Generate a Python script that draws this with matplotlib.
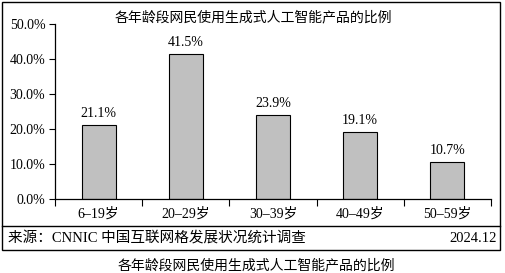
import matplotlib as mpl
mpl.use('Agg')
import matplotlib.pyplot as plt
from matplotlib.patches import Rectangle
from matplotlib.lines import Line2D

categories = ['6–19岁', '20–29岁', '30–39岁', '40–49岁', '50–59岁']
values = [21.1, 41.5, 23.9, 19.1, 10.7]
yticks = [0, 10, 20, 30, 40, 50]

TITLE = '各年龄段网民使用生成式人工智能产品的比例'
SOURCE = '来源：CNNIC 中国互联网格发展状况统计调查'
DATE = '2024.12'

MIXED = ['Liberation Serif', 'Noto Sans CJK SC']
CJK = ['Noto Sans CJK SC', 'DejaVu Sans']

fig = plt.figure(figsize=(5.05, 2.73), dpi=100)
W, H = 505.0, 273.0

# outer frame and source separator
fig.patches.append(Rectangle((2 / W, 1 - 250 / H), 498 / W, 248 / H,
                             transform=fig.transFigure, fill=False,
                             edgecolor='black', linewidth=1.0))
fig.lines.append(Line2D([2 / W, 500 / W], [1 - 226 / H, 1 - 226 / H],
                        transform=fig.transFigure, color='black', linewidth=1.0))

ax = fig.add_axes([55 / W, 1 - 199 / H, 436 / W, 175 / H])
x = range(len(categories))
bars = ax.bar(x, values, width=0.39, color='#c0c0c0', edgecolor='black', linewidth=0.8)
for xi, v in zip(x, values):
    ax.annotate('%.1f%%' % v, (xi, v), xytext=(0, 3.5), textcoords='offset points',
                ha='center', va='bottom', fontsize=10, family=MIXED)

ax.set_xlim(-0.5, len(categories) - 0.5)
ax.set_ylim(0, 50)
ax.set_yticks(yticks)
ax.set_yticklabels(['%.1f%%' % t for t in yticks], family=MIXED, fontsize=10)
ax.set_xticks([i - 0.5 for i in range(len(categories) + 1)])
ax.set_xticklabels([])
ax.set_xticks(list(x), minor=True)
ax.set_xticklabels(categories, minor=True, family=MIXED, fontsize=10)
ax.tick_params(axis='x', which='minor', length=0, pad=6)
ax.tick_params(axis='x', which='major', direction='out', length=5, width=0.8)
ax.tick_params(axis='y', direction='out', length=4, width=0.8, pad=3)
for s in ['top', 'right']:
    ax.spines[s].set_visible(False)
for s in ['left', 'bottom']:
    ax.spines[s].set_linewidth(0.9)

fig.text(253 / W, 1 - 17 / H, TITLE, ha='center', va='center', fontsize=10, family=CJK)
fig.text(8 / W, 1 - 239 / H, SOURCE, ha='left', va='center', fontsize=10.5, family=MIXED)
fig.text(497 / W, 1 - 239 / H, DATE, ha='right', va='center', fontsize=10.5, family=MIXED)
fig.text(256 / W, 1 - 265 / H, TITLE, ha='center', va='center', fontsize=10, family=CJK)

fig.savefig('out.png', dpi=100)
